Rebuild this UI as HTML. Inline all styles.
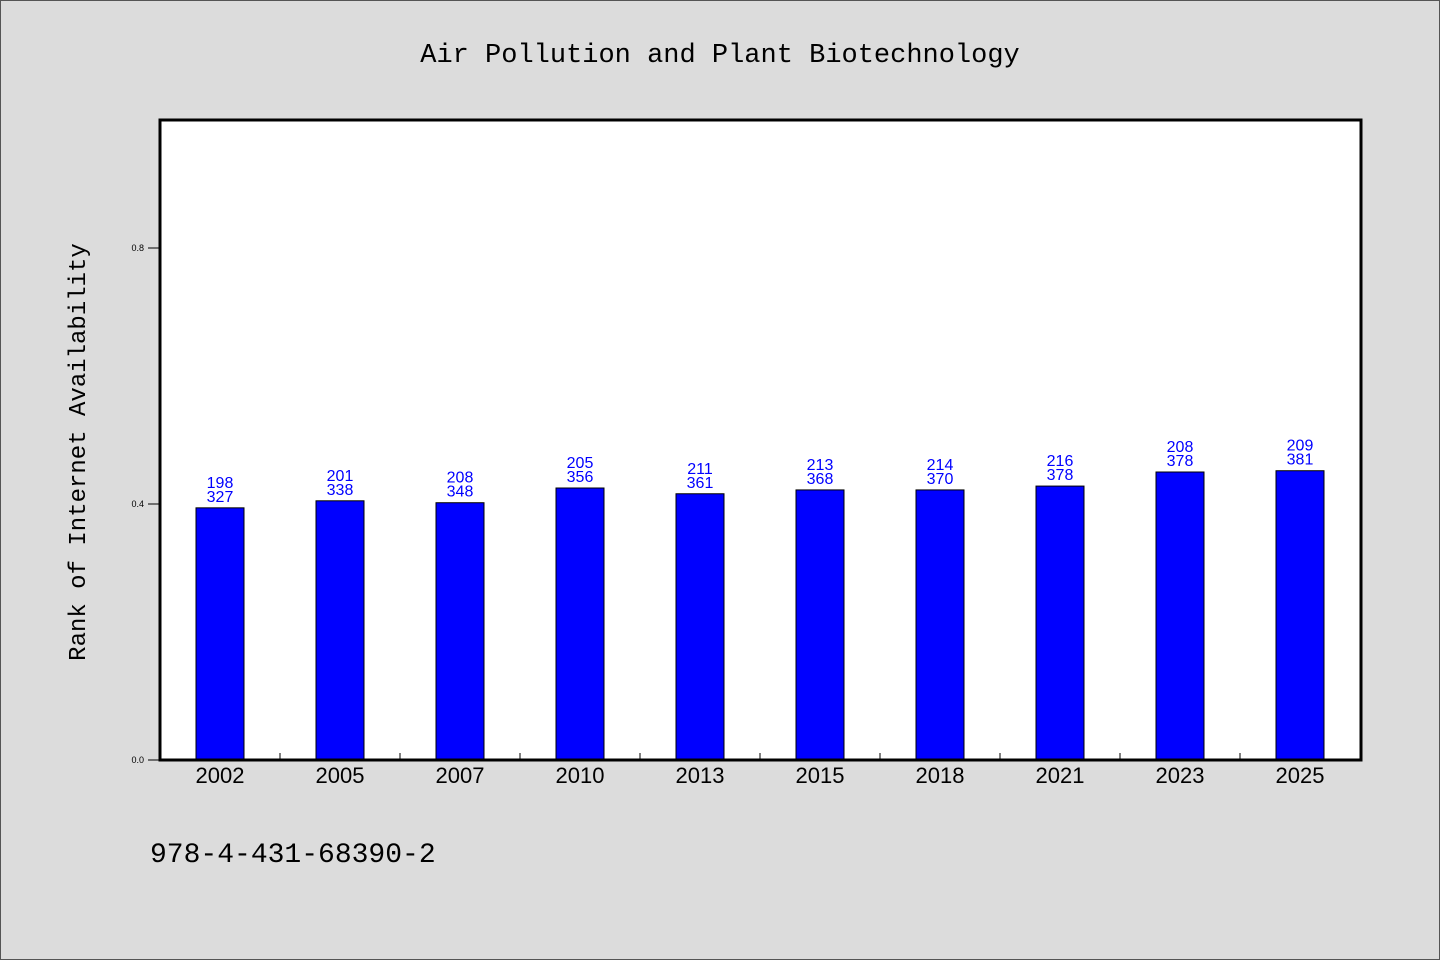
<!DOCTYPE html>
<html><head><meta charset="utf-8"><style>
html,body{margin:0;padding:0;background:#dcdcdc;}
body{width:1440px;height:960px;overflow:hidden;}
svg{display:block;}
</style></head><body>
<svg width="1440" height="960" viewBox="0 0 1440 960">
<rect x="0.5" y="0.5" width="1439" height="959" fill="#dcdcdc" stroke="#555"/>
<text x="720" y="62" text-anchor="middle" font-family="'Liberation Mono','WenQuanYi Zen Hei',monospace" font-size="27" fill="#000">Air Pollution and Plant Biotechnology</text>
<rect x="160" y="120" width="1201" height="640" fill="#fff"/>
<g id="bars"></g>
<rect x="160" y="120" width="1201" height="640" fill="none" stroke="#000" stroke-width="3"/>
<text transform="translate(85,452) rotate(-90)" text-anchor="middle" font-family="'Liberation Mono','WenQuanYi Zen Hei',monospace" font-size="24" fill="#000">Rank of Internet Availability</text>
<text x="150" y="862" font-family="'Liberation Mono','WenQuanYi Zen Hei',monospace" font-size="28" fill="#000">978-4-431-68390-2</text>
</svg>
<script>
const categories = ["2002","2005","2007","2010","2013","2015","2018","2021","2023","2025"];
const values = [0.394,0.405,0.402,0.425,0.416,0.422,0.422,0.428,0.450,0.452];
const labelTop = ["198","201","208","205","211","213","214","216","208","209"];
const labelBottom = ["327","338","348","356","361","368","370","378","378","381"];
const yTicks = [0.0,0.4,0.8];
const yTickLabels = ["0.0","0.4","0.8"];
const NS="http://www.w3.org/2000/svg";
const X0=160,X1=1360,Y0=760,Y1=120,YMAX=1.0;
const band=(X1-X0)/categories.length;
const xc=i=>X0+band*(i+0.5);
const y=v=>Y0-(v/YMAX)*(Y0-Y1);
const g=document.getElementById('bars');
function mk(tag,attrs){const e=document.createElementNS(NS,tag);for(const k in attrs)e.setAttribute(k,attrs[k]);g.appendChild(e);return e;}
categories.forEach((c,i)=>{
  const b=mk('rect',{x:xc(i)-24,y:y(values[i]),width:48,height:Y0-y(values[i]),fill:'#0000ff',stroke:'#000','stroke-width':1});
  
  
  const t1=mk('text',{x:xc(i),y:y(values[i])-20,'text-anchor':'middle','font-family':"'Liberation Sans',sans-serif",'font-size':16,fill:'#0000ff'});
  t1.textContent=labelTop[i];
  
  
  const t2=mk('text',{x:xc(i),y:y(values[i])-6,'text-anchor':'middle','font-family':"'Liberation Sans',sans-serif",'font-size':16,fill:'#0000ff'});
  t2.textContent=labelBottom[i];
  
  
  const xl=mk('text',{x:xc(i),y:783,'text-anchor':'middle','font-family':"'Liberation Sans',sans-serif",'font-size':22,fill:'#000'});
  xl.textContent=c;
  
  
  if(i>0){
    const tk=mk('line',{x1:X0+band*i,x2:X0+band*i,y1:Y0,y2:Y0-7,stroke:'#000','stroke-width':1});
    
    
  }
});
yTicks.forEach((v,i)=>{
  const tk=mk('line',{x1:X0-12,x2:X0,y1:y(v),y2:y(v),stroke:'#000','stroke-width':1});
  
  
  const tl=mk('text',{x:X0-16,y:y(v)+3,'text-anchor':'end','font-family':"'Liberation Sans',sans-serif",'font-size':9,fill:'#000'});
  tl.textContent=yTickLabels[i];
  
  
});
</script>
</body></html>
